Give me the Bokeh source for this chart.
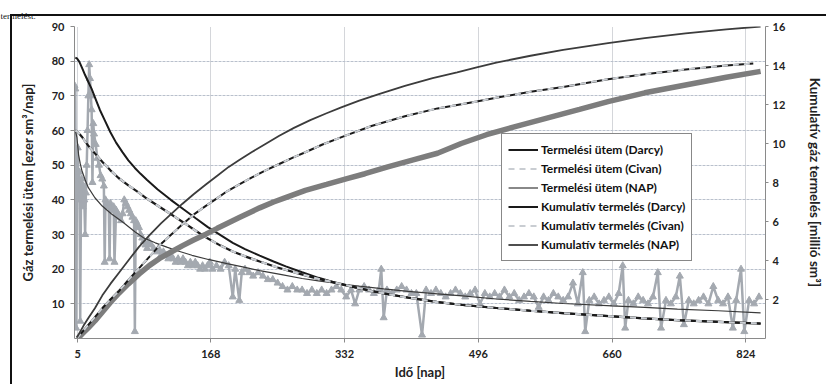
from bokeh.plotting import figure
from bokeh.models import (Range1d, LinearAxis, FixedTicker, Legend, LegendItem, Title)
from bokeh.embed import file_html
from bokeh.resources import INLINE

# ---------------- data ----------------
x_ticks = [5, 168, 332, 496, 660, 824]
rate_ticks = [10, 20, 30, 40, 50, 60, 70, 80, 90]
cum_ticks = [2, 4, 6, 8, 10, 12, 14, 16]

# Termelési ütem (Darcy)  [ezer sm3/nap]
darcy_rate_day = [2, 4, 7, 10, 14, 18, 22, 27, 32, 38, 45, 52, 60, 67, 75, 82, 90, 103, 119, 135,
                  150, 164, 180, 195, 210, 228, 245, 260, 280, 300, 325, 350, 380, 410, 446, 480, 518, 560, 600, 660,
                  700, 740, 790, 842]
darcy_rate_val = [81, 80.8, 79.8, 78.2, 76, 74, 72, 69, 66, 63, 59.5, 56.5, 53.7, 51.4, 49.2, 47.5, 45.7, 43, 40, 37.2,
                  34.6, 32.2, 29.8, 27.6, 25.8, 23.9, 22.2, 20.8, 19.1, 17.5, 15.8, 14.4, 13, 11.8, 10.5, 9.6, 8.8, 8, 7.3, 6.4,
                  5.8, 5.3, 4.8, 4.3]

# Termelési ütem (Civan)
civan_rate_day = [2, 5, 10, 15, 20, 26, 35, 45, 55, 67, 79, 90, 105, 119, 135, 150, 164, 180, 195, 210,
                  228, 250, 275, 300, 330, 365, 406, 446, 480, 518, 560, 600, 660, 700, 740, 790, 842]
civan_rate_val = [60, 59.6, 58.2, 56.5, 55, 53.4, 51, 48.5, 46.3, 44.2, 42.2, 40.3, 38, 35.9, 33.4, 31, 28.9, 26.8, 25.1, 23.7,
                  22.2, 20.5, 18.8, 17.2, 15.6, 13.7, 11.9, 10.5, 9.6, 8.8, 8, 7.3, 6.4, 5.8, 5.3, 4.8, 4.3]

# Termelési ütem (NAP)
nap_rate_day = [2, 4, 6, 8, 10, 14, 18, 26, 35, 46, 60, 75, 86, 100, 115, 127, 145, 165, 188, 210,
                228, 255, 280, 300, 325, 350, 380, 410, 446, 480, 518, 560, 600, 660, 700, 740, 790, 842]
nap_rate_val = [60, 58, 53, 50.5, 48.5, 45.8, 43.5, 40.6, 38.2, 36, 33.6, 30.8, 29, 27.6, 26.3, 25.3, 24, 22.8, 21.6, 20.5,
                19.6, 18.4, 17.3, 16.6, 15.8, 15.1, 14.3, 13.6, 12.9, 12.2, 11.4, 10.7, 10.1, 9.4, 9, 8.5, 8, 7.4]

# measured daily rate (gray, noisy)
meas_day = [1, 2, 3, 4, 5, 6, 7, 8, 9, 10, 11, 12, 13, 14, 15, 16, 17, 18, 19, 20,
            21, 22, 23, 24, 25, 27, 29, 31, 33, 35, 37, 38, 39, 41, 43, 44, 45, 47, 49, 50,
            52, 54, 56, 58, 60, 62, 64, 66, 68, 70, 72, 74, 75, 76, 78, 80, 82, 84, 86, 88,
            90, 92, 95, 98, 101, 104, 107, 110, 113, 116, 119, 122, 125, 128, 131, 134, 137, 140, 143, 146,
            149, 152, 155, 158, 161, 164, 167, 170, 175, 180, 185, 190, 195, 198, 203, 206, 210, 215, 220, 226,
            232, 238, 244, 250, 256, 262, 268, 274, 280, 286, 292, 298, 304, 310, 316, 322, 328, 334, 340, 345,
            350, 356, 362, 368, 374, 377, 380, 384, 390, 396, 402, 408, 414, 420, 427, 432, 438, 444, 450, 456,
            462, 468, 474, 480, 486, 492, 498, 504, 510, 516, 522, 528, 534, 540, 546, 552, 558, 564, 570, 576,
            582, 588, 594, 600, 606, 612, 618, 624, 627, 632, 638, 644, 650, 656, 662, 668, 673, 676, 680, 686,
            692, 698, 704, 710, 716, 720, 726, 732, 738, 743, 748, 754, 760, 766, 772, 778, 784, 790, 796, 802,
            808, 812, 818, 822, 828, 834, 840]
meas_val = [73, 72, 3, 45, 55, 40, 48, 5, 42, 46, 38, 44, 40, 30, 42, 50, 60, 70, 79, 75,
            70, 66, 45, 62, 59, 56, 52, 50, 47, 46, 44, 22, 40, 39, 38, 23, 39, 37, 38, 22,
            37, 36, 35, 34, 36, 40, 39, 38, 37, 36, 35, 34, 2, 34, 33, 32, 30, 29, 28, 27,
            26, 28, 27, 26, 25, 26, 24, 25, 24, 23, 24, 23, 22, 23, 22, 23, 22, 21, 22, 21,
            22, 21, 20, 21, 20, 21, 22, 20, 21, 20, 22, 21, 12, 20, 11, 19, 20, 19, 18, 19,
            18, 17, 17, 16, 15, 14, 15, 14, 14, 13, 14, 13, 14, 13, 14, 15, 14, 12, 14, 10,
            14, 15, 14, 13, 14, 20, 6, 14, 13, 14, 15, 14, 13, 13, 1, 14, 13, 14, 13, 12,
            13, 14, 13, 12, 13, 14, 10, 13, 12, 13, 12, 14, 12, 13, 11, 12, 13, 12, 9, 12,
            11, 13, 12, 11, 12, 16, 10, 19, 2, 11, 12, 10, 11, 12, 10, 13, 21, 3, 11, 10,
            12, 11, 10, 12, 19, 3, 11, 10, 12, 18, 4, 11, 10, 11, 12, 10, 15, 11, 10, 12,
            3, 11, 20, 2, 11, 10, 12]

# Kumulatív termelés [millió sm3]
cum_top_day = [4, 8, 12, 18, 26, 35, 45, 56, 67, 80, 93, 107, 120, 133, 147, 162, 176, 190, 203, 218,
               234, 252, 270, 290, 310, 328, 350, 375, 406, 440, 470, 494, 518, 560, 600, 655, 700, 750, 800, 842]
cum_top_val = [0.05, 0.35, 0.65, 1.05, 1.55, 2.2, 2.8, 3.4, 4.0, 4.7, 5.3, 5.9, 6.4, 6.9, 7.4, 7.9, 8.35, 8.8, 9.15, 9.55,
               9.95, 10.4, 10.8, 11.2, 11.55, 11.85, 12.2, 12.55, 12.95, 13.35, 13.65, 13.9, 14.15, 14.5, 14.8, 15.15, 15.4, 15.65, 15.85, 16.0]

cum_mid_day = [4, 10, 18, 26, 35, 45, 56, 67, 80, 93, 107, 120, 133, 147, 162, 176, 188, 203, 218, 234,
               252, 270, 284, 305, 330, 365, 406, 446, 494, 518, 560, 600, 655, 700, 750, 800, 833]
cum_mid_val = [0.0, 0.3, 0.7, 1.1, 1.55, 2.0, 2.45, 3.0, 3.6, 4.2, 4.85, 5.35, 5.85, 6.35, 6.8, 7.2, 7.55, 7.9, 8.25, 8.6,
               8.95, 9.3, 9.55, 9.95, 10.35, 10.9, 11.4, 11.8, 12.15, 12.35, 12.65, 12.9, 13.3, 13.55, 13.8, 14.0, 14.1]

cum_nap_day = [5, 12, 18, 26, 35, 45, 56, 67, 80, 93, 107, 120, 133, 147, 162, 176, 188, 203, 218, 228,
               245, 258, 284, 310, 335, 357, 385, 415, 446, 475, 506, 540, 580, 620, 655, 700, 750, 800, 842]
cum_nap_val = [0.0, 0.3, 0.55, 0.9, 1.35, 1.85, 2.35, 2.8, 3.3, 3.75, 4.15, 4.45, 4.75, 5.05, 5.35, 5.65, 5.9, 6.2, 6.5, 6.7,
               7.0, 7.2, 7.6, 7.9, 8.2, 8.45, 8.8, 9.15, 9.5, 10.0, 10.45, 10.85, 11.3, 11.75, 12.15, 12.6, 13.0, 13.4, 13.7]

legend_labels = ["Termelési ütem (Darcy)", "Termelési ütem (Civan)", "Termelési ütem (NAP)",
                 "Kumulatív termelés (Darcy)", "Kumulatív termelés (Civan)", "Kumulatív termelés (NAP)"]

FONT = "Lato"

# ---------------- figure ----------------
p = figure(width=826, height=384, output_backend="svg", toolbar_location=None,
           x_range=Range1d(1, 848), y_range=Range1d(0, 90),
           min_border_left=74, min_border_right=54, min_border_top=26, min_border_bottom=46,
           background_fill_color="white", border_fill_color=None)
p.outline_line_color = None
p.extra_y_ranges = {"cum": Range1d(0, 16)}
# the black frame of the scanned figure (top and left edges)
p.styles = {
    "background-color": "white",
    "background-image": "linear-gradient(#111111, #111111), linear-gradient(#111111, #111111)",
    "background-size": "2px 100%, 100% 2px",
    "background-position": "10px 14px, 10px 14px",
    "background-repeat": "no-repeat",
}

# fragment of the surrounding page text above the chart
p.add_layout(Title(text="termelést.", align="left", offset=-74, standoff=12,
                   text_font="Liberation Serif", text_font_size="9px",
                   text_font_style="normal", text_color="#111111"), "above")

def style_axis(ax):
    ax.major_label_text_font = FONT
    ax.major_label_text_font_style = "bold"
    ax.major_label_text_font_size = "11px"
    ax.major_label_text_color = "#222222"
    ax.axis_label_text_font = FONT
    ax.axis_label_text_font_style = "bold"
    ax.axis_label_text_font_size = "13px"
    ax.axis_label_text_color = "#222222"
    ax.axis_line_color = "#8a8a8a"
    ax.major_tick_line_color = "#8a8a8a"
    ax.minor_tick_line_color = None
    ax.major_tick_in = 0
    ax.major_tick_out = 4

xa = p.xaxis[0]
style_axis(xa)
xa.ticker = FixedTicker(ticks=x_ticks)
xa.axis_label = "Idő [nap]"
xa.major_label_standoff = 7
xa.axis_label_standoff = 3

ya = p.yaxis[0]
style_axis(ya)
ya.ticker = FixedTicker(ticks=rate_ticks)
ya.axis_label = "Gáz termelési ütem [ezer sm³/nap]"
ya.major_label_standoff = 6
ya.axis_label_standoff = 13

yr = LinearAxis(y_range_name="cum", axis_label="Kumulatív gáz termelés [millió sm³]")
style_axis(yr)
yr.axis_label_text_font_size = "13.5px"
yr.ticker = FixedTicker(ticks=cum_ticks)
yr.major_tick_out = 3
yr.major_label_standoff = 4
yr.axis_label_standoff = 19
p.add_layout(yr, "right")

p.xgrid.grid_line_color = "#a9adb5"
p.xgrid.grid_line_dash = "1 1"
p.ygrid.grid_line_color = "#b9c0cc"
p.ygrid.grid_line_dash = "3 1"

# ---------------- glyphs ----------------
p.line(meas_day, meas_val, line_color="#a4a9b0", line_width=2.5)
p.scatter(meas_day, meas_val, marker="triangle", size=7, fill_color="#a4a9b0", line_color="#a4a9b0")

r_nap = p.line(nap_rate_day, nap_rate_val, line_color="#3a3a3a", line_width=1.2)
r_darcy = p.line(darcy_rate_day, darcy_rate_val, line_color="#1a1a1a", line_width=2)
r_civan_base = p.line(civan_rate_day, civan_rate_val, line_color="#1a1a1a", line_width=2.2)
r_civan = p.line(civan_rate_day, civan_rate_val, line_color="#c9cdd2", line_width=2.2, line_dash="6 5")

c_nap = p.line(cum_nap_day, cum_nap_val, y_range_name="cum", line_color="#7d7d7d", line_width=5.5)
c_mid = p.line(cum_mid_day, cum_mid_val, y_range_name="cum", line_color="#1a1a1a", line_width=2)
c_mid_dash = p.line(cum_mid_day, cum_mid_val, y_range_name="cum", line_color="#c9cdd2", line_width=2, line_dash="6 5")
c_top = p.line(cum_top_day, cum_top_val, y_range_name="cum", line_color="#3c3c3c", line_width=1.8)

legend = Legend(items=[
    LegendItem(label=legend_labels[0], renderers=[r_darcy]),
    LegendItem(label=legend_labels[1], renderers=[r_civan]),
    LegendItem(label=legend_labels[2], renderers=[r_nap]),
    LegendItem(label=legend_labels[3], renderers=[c_mid]),
    LegendItem(label=legend_labels[4], renderers=[c_mid_dash]),
    LegendItem(label=legend_labels[5], renderers=[c_top]),
], location=(427, 77))
legend.label_text_font = FONT
legend.label_text_font_style = "bold"
legend.label_text_font_size = "12px"
legend.label_text_color = "#111111"
legend.glyph_width = 30
legend.glyph_height = 19
legend.label_height = 19
legend.label_width = 132
legend.label_standoff = 3
legend.spacing = 0
legend.padding = 6
legend.margin = 0
legend.border_line_color = "#111111"
legend.border_line_width = 1.2
legend.background_fill_color = "white"
legend.background_fill_alpha = 1
p.add_layout(legend, "center")

open("out.html", "w").write(file_html(p, INLINE))
